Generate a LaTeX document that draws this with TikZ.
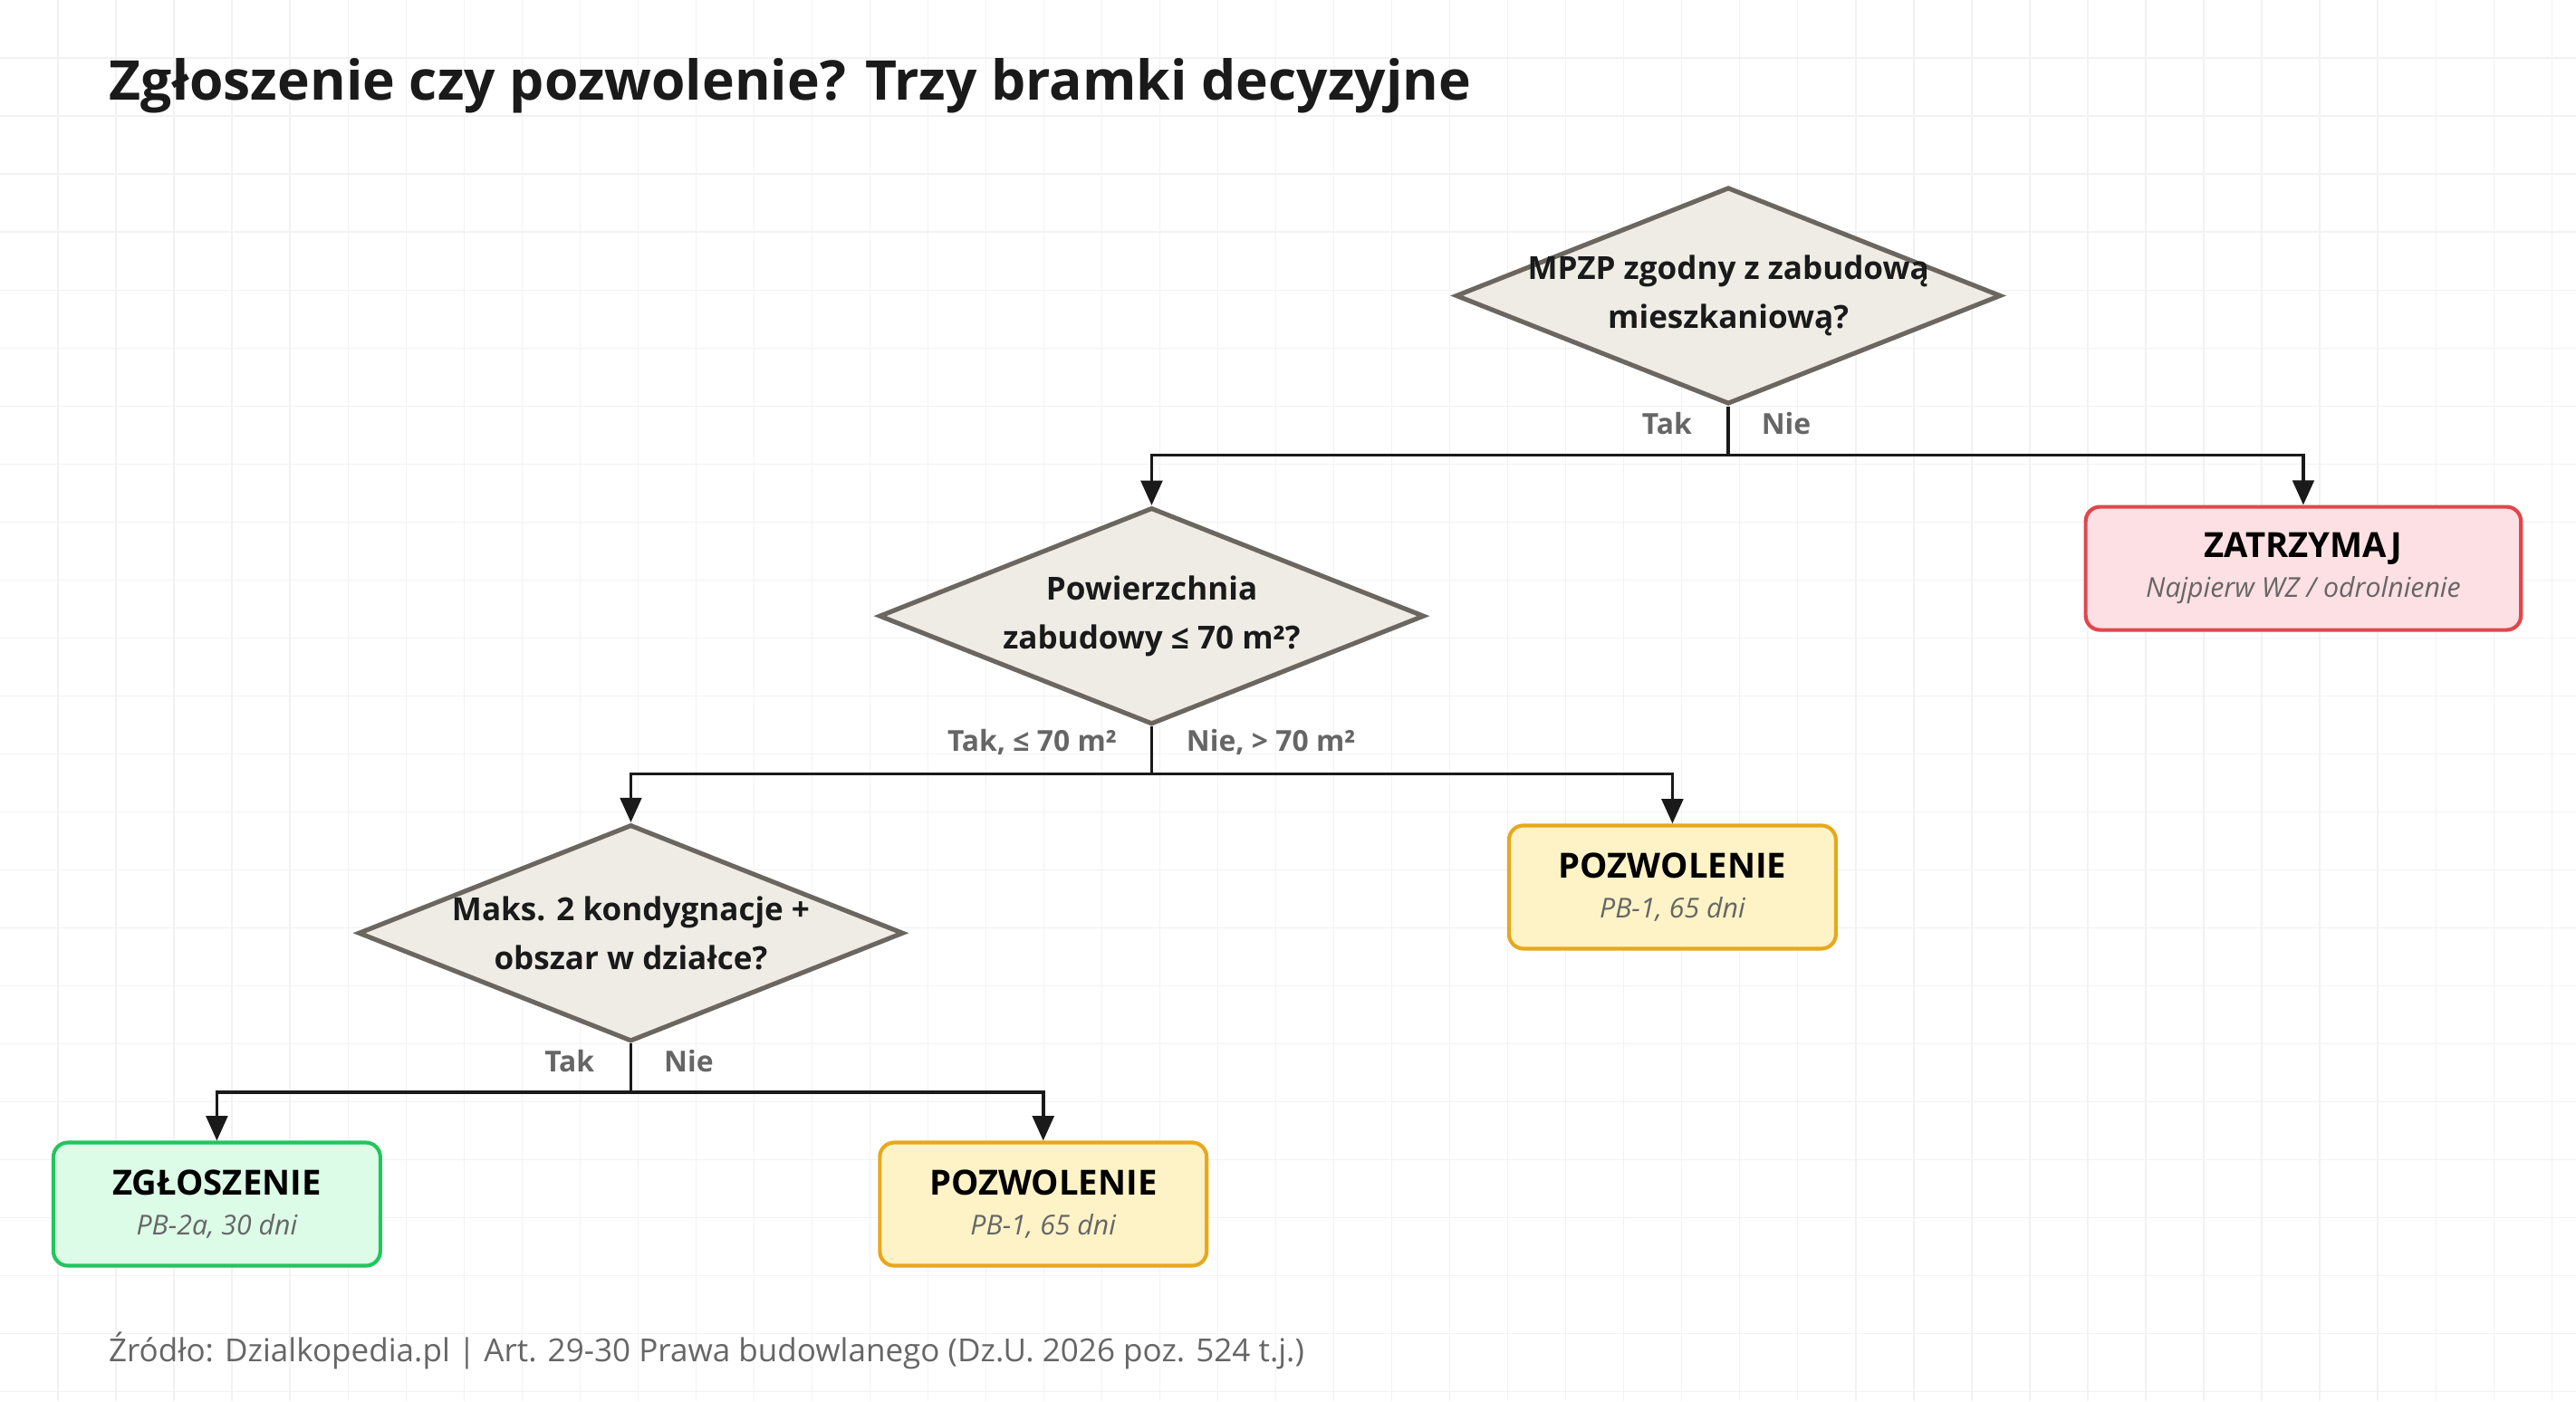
\documentclass[tikz,border=0pt]{standalone}
\usepackage{fontspec}
\setmainfont{Open Sans}
\usepackage{xcolor}
\usetikzlibrary{shapes.geometric}
\usetikzlibrary {arrows.meta}
\definecolor{gateFill}{HTML}{EFECE6}
\definecolor{gateDraw}{HTML}{6B6660}
\definecolor{stopFill}{HTML}{FDE0E3}
\definecolor{stopDraw}{HTML}{E0474C}
\definecolor{permFill}{HTML}{FEF3C7}
\definecolor{permDraw}{HTML}{E8A81C}
\definecolor{noteFill}{HTML}{DCFCE7}
\definecolor{noteDraw}{HTML}{22C55E}
\definecolor{ink}{HTML}{1A1A1A}
\definecolor{muted}{HTML}{666666}
\begin{document}
\begin{tikzpicture}[x=0.02cm,y=-0.02cm]
        \tikzset{gate/.style = {shape=diamond,draw=gateDraw,fill=gateFill,line width=1.6pt,
            minimum width=6.64cm,minimum height=2.64cm,inner sep=0pt}}
        \tikzset{gatetext/.style = {font=\fontsize{11}{17}\selectfont\bfseries,text=ink,align=center}}
        \tikzset{result/.style = {draw,rounded corners=5pt,line width=1.3pt,
            minimum width=3.98cm,minimum height=1.5cm,align=center}}
        \tikzset{branch/.style = {font=\fontsize{10}{12}\selectfont\bfseries,text=muted}}
        \tikzset{edge/.style = {line width=1.1pt,draw=ink,-{Triangle[length=0.3cm,width=0.26cm]}}}
        \useasboundingbox (0,0) rectangle (1568,853);
        \fill[white] (0,0) rectangle (1568,853);
        \foreach \k in {1,...,44} {\draw[black!5,line width=0.4pt] (35.3*\k,0) -- (35.3*\k,853);}
        \foreach \k in {1,...,24} {\draw[black!5,line width=0.4pt] (0,35.3*\k) -- (1568,35.3*\k);}
        % title and source
        \node[anchor=west,font=\fontsize{19}{22}\selectfont\bfseries,text=ink] (title) at (60,52) {Zgłoszenie czy pozwolenie? Trzy bramki decyzyjne};
        \node[anchor=west,font=\fontsize{11}{13}\selectfont,text=muted] (source) at (60,822) {Źródło: Dzialkopedia.pl | Art. 29-30 Prawa budowlanego (Dz.U. 2026 poz. 524 t.j.)};
        % gates
        \node[gate] (g1) at (1052,180) {};
        \node[gatetext] at (g1) {MPZP zgodny z zabudową\\mieszkaniową?};
        \node[gate] (g2) at (701,375) {};
        \node[gatetext] at (g2) {Powierzchnia\\zabudowy ≤ 70 m²?};
        \node[gate] (g3) at (384,568) {};
        \node[gatetext] at (g3) {Maks. 2 kondygnacje +\\obszar w działce?};
        % outcomes
        \node[result,draw=stopDraw,fill=stopFill,minimum width=5.3cm] (stop) at (1402,346)
          {\fontsize{12}{14}\selectfont\bfseries ZATRZYMAJ\\[2pt]{\fontsize{9.5}{11}\selectfont\itshape\color{muted} Najpierw WZ / odrolnienie}};
        \node[result,draw=permDraw,fill=permFill] (perm1) at (1018,540)
          {\fontsize{12}{14}\selectfont\bfseries POZWOLENIE\\[2pt]{\fontsize{9.5}{11}\selectfont\itshape\color{muted} PB-1, 65 dni}};
        \node[result,draw=noteDraw,fill=noteFill] (note) at (132,733)
          {\fontsize{12}{14}\selectfont\bfseries ZGŁOSZENIE\\[2pt]{\fontsize{9.5}{11}\selectfont\itshape\color{muted} PB-2a, 30 dni}};
        \node[result,draw=permDraw,fill=permFill] (perm2) at (635,733)
          {\fontsize{12}{14}\selectfont\bfseries POZWOLENIE\\[2pt]{\fontsize{9.5}{11}\selectfont\itshape\color{muted} PB-1, 65 dni}};
        % edges
        \coordinate (j1) at (1052,277);
        \coordinate (j2) at (701,471);
        \coordinate (j3) at (384,665);
        \draw[line width=1.1pt,draw=ink] (g1.south) -- (j1);
        \draw[edge] (j1) -| (g2.north);
        \draw[edge] (j1) -| (stop.north);
        \draw[line width=1.1pt,draw=ink] (g2.south) -- (j2);
        \draw[edge] (j2) -| (g3.north);
        \draw[edge] (j2) -| (perm1.north);
        \draw[line width=1.1pt,draw=ink] (g3.south) -- (j3);
        \draw[edge] (j3) -| (note.north);
        \draw[edge] (j3) -| (perm2.north);
        % branch labels
        \node[branch,anchor=east] (t1) at (1036,258) {Tak};
        \node[branch,anchor=west] (n1) at (1066,258) {Nie};
        \node[branch,anchor=east] (t2) at (686,452) {Tak, ≤ 70 m²};
        \node[branch,anchor=west] (n2) at (716,452) {Nie, > 70 m²};
        \node[branch,anchor=east] (t3) at (368,646) {Tak};
        \node[branch,anchor=west] (n3) at (398,646) {Nie};
      \end{tikzpicture}
\end{document}
